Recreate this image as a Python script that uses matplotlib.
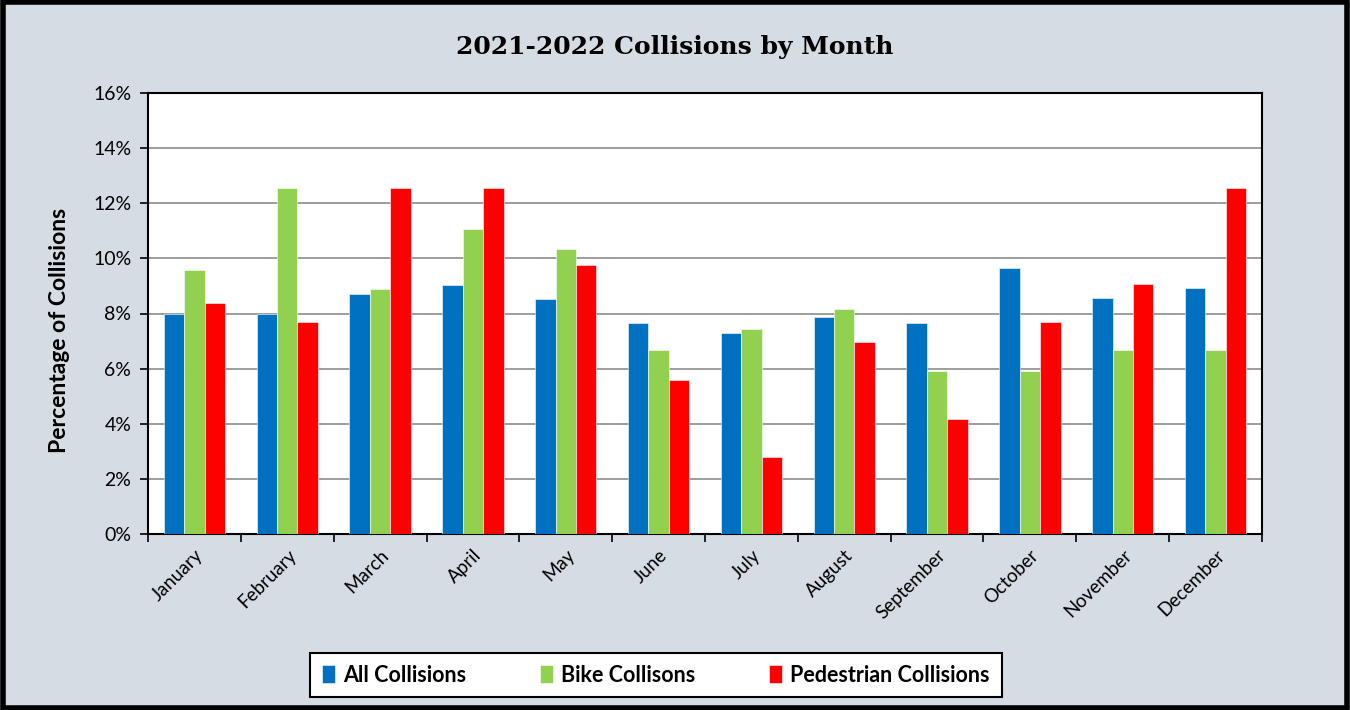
import numpy as np
import matplotlib.pyplot as plt
from matplotlib.patches import Rectangle
from matplotlib.ticker import FuncFormatter, MultipleLocator, FixedLocator

months = ['January', 'February', 'March', 'April', 'May', 'June', 'July',
          'August', 'September', 'October', 'November', 'December']
all_collisions = [8.0, 8.0, 8.7, 9.02, 8.51, 7.64, 7.31, 7.89, 7.64, 9.64, 8.55, 8.92]
bike_collisions = [9.59, 12.57, 8.89, 11.05, 10.34, 6.67, 7.42, 8.15, 5.92, 5.92, 6.67, 6.67]
ped_collisions = [8.39, 7.68, 12.57, 12.57, 9.77, 5.58, 2.79, 6.97, 4.17, 7.68, 9.07, 12.57]
series_names = ['All Collisions', 'Bike Collisons', 'Pedestrian Collisions']
colors = ['#0070C0', '#92D050', '#FF0000']

bg = '#D6DCE4'
fig = plt.figure(figsize=(13.5, 7.1), dpi=100, facecolor=bg)
ax = fig.add_axes([148/1350, 1-534/710, (1262-148)/1350, (534-93)/710])
ax.set_facecolor('white')

x = np.arange(len(months))
w = 0.22
for i, (vals, name, c) in enumerate(zip([all_collisions, bike_collisions, ped_collisions],
                                        series_names, colors)):
    ax.bar(x + (i-1)*w, vals, w, color=c, label=name, edgecolor='white',
           linewidth=0.4, zorder=3)

ax.set_xlim(-0.5, len(months)-0.5)
ax.set_ylim(0, 16)
ax.yaxis.set_major_locator(MultipleLocator(2))
ax.yaxis.set_major_formatter(FuncFormatter(lambda v, p: f'{v:.0f}%'))
ax.grid(axis='y', color='#8c8c8c', linewidth=1.2, zorder=0)

ax.set_xticks(x)
ax.set_xticklabels(months, rotation=45, ha='right', rotation_mode='anchor',
                   family='Lato', fontsize=13.5)
ax.tick_params(axis='x', which='major', length=0, pad=9)
ax.xaxis.set_minor_locator(FixedLocator(np.arange(-0.5, len(months), 1)))
ax.tick_params(axis='x', which='minor', length=6, width=1.2, direction='out')
ax.tick_params(axis='y', length=6, width=1.2, direction='out', labelsize=14, pad=6)
for lab in ax.get_yticklabels():
    lab.set_family('Lato')
for s in ax.spines.values():
    s.set_linewidth(1.5)
    s.set_color('black')

fig.text(0.5, 1-47/710, '2021-2022 Collisions by Month', ha='center', va='center',
         family='DejaVu Serif', fontweight='bold', fontsize=18)
fig.text(60/1350, 1-330/710, 'Percentage of Collisions', rotation=90, ha='center',
         va='center', family='Lato', fontweight='bold', fontsize=16.5)

leg = fig.legend(loc='center', bbox_to_anchor=(656/1350, 1-675/710), ncol=3,
                 frameon=True, fancybox=False, edgecolor='black', framealpha=1,
                 prop={'family': 'Lato', 'weight': 'bold', 'size': 15.5},
                 handlelength=0.6, handleheight=0.9, handletextpad=0.4,
                 columnspacing=3.4, borderpad=0.55, borderaxespad=0)
leg.get_frame().set_linewidth(1.5)

fig.patches.append(Rectangle((0.002, 0.003), 0.996, 0.994, transform=fig.transFigure,
                             fill=False, edgecolor='black', linewidth=4))

fig.savefig('out.png', dpi=100, facecolor=bg)
